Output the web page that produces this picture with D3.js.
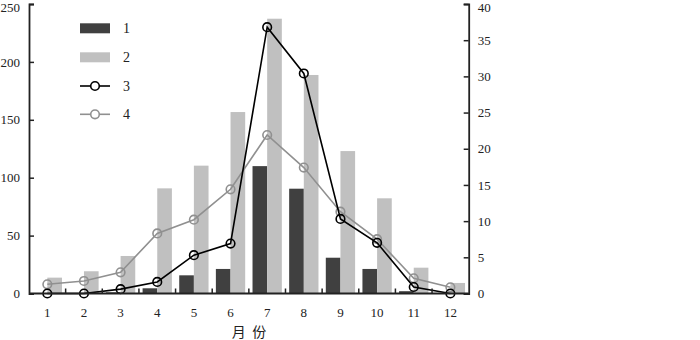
<!DOCTYPE html>
<html><head><meta charset="utf-8">
<script src="https://cdn.jsdelivr.net/npm/d3@7"></script>
<style>body{margin:0;background:#fff}svg{display:block}</style>
</head><body><svg id="c" width="700" height="340"></svg>
<script>
const months = ["1","2","3","4","5","6","7","8","9","10","11","12"];
const series1 = [0, 0, 1, 4.5, 15.7, 21.2, 110, 90.5, 30.9, 21.2, 2, 0];
const series2 = [13.7, 19.2, 32.4, 90.8, 110.4, 156.7, 237.3, 188.7, 123, 82.2, 22.3, 9.1];
const series3 = [0, 0, 0.6, 1.6, 5.3, 6.9, 36.8, 30.4, 10.3, 7.0, 0.9, 0];
const series4 = [1.27, 1.73, 2.93, 8.3, 10.2, 14.4, 21.9, 17.4, 11.3, 7.5, 2.1, 0.86];
const leftTicks = [0, 50, 100, 150, 200, 250];
const rightTicks = [0, 5, 10, 15, 20, 25, 30, 35, 40];
const legendLabels = ["1", "2", "3", "4"];
const xTitle = "月  份";

const svg = d3.select("#c");
const L = 29, R = 468.7, T = 4, B = 293.5;
const x = d3.scaleBand().domain(months).range([L, R]).padding(0);
const yL = d3.scaleLinear().domain([0, 250]).range([B, T]);
const yR = d3.scaleLinear().domain([0, 40]).range([B, T]);
const bw = x.bandwidth() * 0.4;
const cx = m => x(m) + x.bandwidth() / 2;
const serif = "'Liberation Serif','Times New Roman',serif";

// bars
svg.append("g").selectAll("rect").data(months).join("rect")
  .attr("x", m => cx(m) - bw).attr("width", bw)
  .attr("y", (m, i) => yL(series1[i])).attr("height", (m, i) => B - yL(series1[i]))
  .attr("fill", "#404040");
svg.append("g").selectAll("rect").data(months).join("rect")
  .attr("x", m => cx(m)).attr("width", bw)
  .attr("y", (m, i) => yL(series2[i])).attr("height", (m, i) => B - yL(series2[i]))
  .attr("fill", "#c0c0c0");

// lines
function drawLine(vals, color) {
  const line = d3.line().x((d, i) => cx(months[i])).y(d => yR(d));
  svg.append("path").datum(vals).attr("d", line).attr("fill", "none")
    .attr("stroke", color).attr("stroke-width", 1.6);
  svg.append("g").selectAll("circle").data(vals).join("circle")
    .attr("cx", (d, i) => cx(months[i])).attr("cy", d => yR(d)).attr("r", 4.3)
    .attr("fill", "none").attr("stroke", color).attr("stroke-width", 1.6);
}
drawLine(series4, "#909090");
drawLine(series3, "#000000");

// axes
const axStyle = g => {
  g.selectAll("path").attr("stroke", "#222").attr("stroke-width", 1.8);
  g.selectAll("line").attr("stroke", "#222").attr("stroke-width", 1.5);
  g.selectAll("text").attr("font-family", serif).attr("font-size", 13).attr("fill", "#222");
};
svg.append("g").attr("transform", `translate(${L},0)`)
  .call(d3.axisRight(yL).tickValues(leftTicks).tickSize(5).tickSizeOuter(5))
  .call(g => g.selectAll("text").attr("x", -9).attr("text-anchor", "end")
    .attr("dy", d => d === 250 ? "0.55em" : "0.32em"))
  .call(axStyle);
svg.append("g").attr("transform", `translate(${R},0)`)
  .call(d3.axisLeft(yR).tickValues(rightTicks).tickSize(5).tickSizeOuter(5))
  .call(g => g.selectAll("text").attr("x", 9).attr("text-anchor", "start")
    .attr("dy", d => d === 40 ? "0.55em" : "0.32em"))
  .call(axStyle);
// bottom axis: line + ticks at band boundaries
const xb = svg.append("g").attr("transform", `translate(0,${B})`);
xb.append("line").attr("x1", L).attr("x2", R).attr("stroke", "#222").attr("stroke-width", 1.8);
xb.selectAll("line.t").data(months.slice(1)).join("line").attr("class", "t")
  .attr("x1", m => x(m)).attr("x2", m => x(m)).attr("y1", 0).attr("y2", -5)
  .attr("stroke", "#222").attr("stroke-width", 1.5);
xb.selectAll("text").data(months).join("text")
  .attr("x", m => cx(m)).attr("y", 23).attr("text-anchor", "middle")
  .attr("font-family", serif).attr("font-size", 13).attr("fill", "#222").text(m => m);

svg.append("text").attr("x", 249).attr("y", 337).attr("text-anchor", "middle")
  .attr("font-family", "'Noto Sans CJK SC',sans-serif").attr("font-size", 14).attr("fill", "#222")
  .attr("xml:space", "preserve").style("white-space", "pre").text(xTitle);

// legend
const lg = svg.append("g");
const ly = [28.3, 57.3, 86, 114.3];
lg.append("rect").attr("x", 80).attr("y", ly[0] - 5).attr("width", 30).attr("height", 10).attr("fill", "#404040");
lg.append("rect").attr("x", 80).attr("y", ly[1] - 5).attr("width", 30).attr("height", 10).attr("fill", "#c0c0c0");
[["#000", ly[2]], ["#909090", ly[3]]].forEach(([c, y]) => {
  lg.append("line").attr("x1", 80).attr("x2", 110).attr("y1", y).attr("y2", y).attr("stroke", c).attr("stroke-width", 1.6);
  lg.append("circle").attr("cx", 95).attr("cy", y).attr("r", 4.3).attr("fill", "#fff").attr("stroke", c).attr("stroke-width", 1.6);
});
lg.selectAll("text").data(legendLabels).join("text")
  .attr("x", 123).attr("y", (d, i) => ly[i] + 5)
  .attr("font-family", serif).attr("font-size", 14).attr("fill", "#222").text(d => d);
</script></body></html>
